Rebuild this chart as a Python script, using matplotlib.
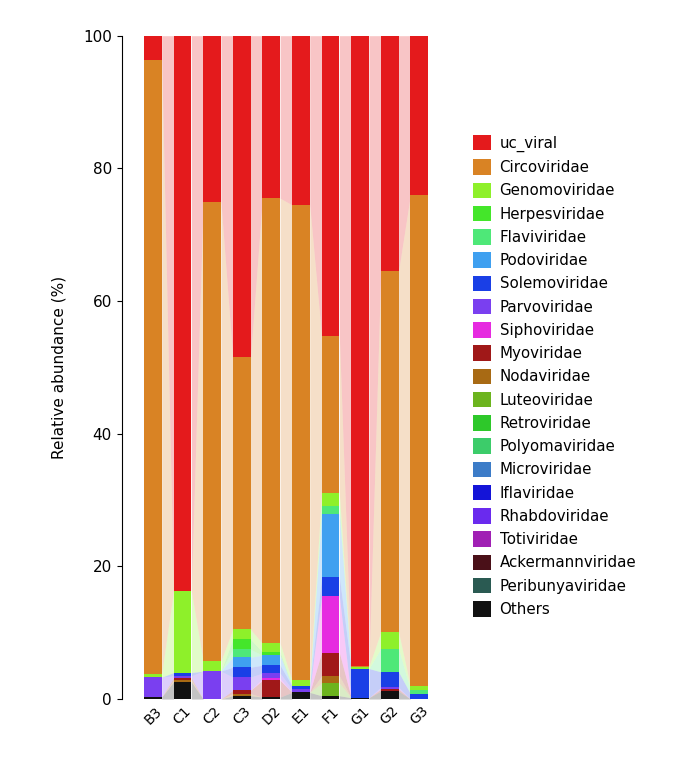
import matplotlib
matplotlib.use("Agg")
import matplotlib.pyplot as plt
import numpy as np

samples = ["B3","C1","C2","C3","D2","E1","F1","G1","G2","G3"]
families = ["uc_viral","Circoviridae","Genomoviridae","Herpesviridae","Flaviviridae","Podoviridae",
            "Solemoviridae","Parvoviridae","Siphoviridae","Myoviridae","Nodaviridae","Luteoviridae",
            "Retroviridae","Polyomaviridae","Microviridae","Iflaviridae","Rhabdoviridae","Totiviridae",
            "Ackermannviridae","Peribunyaviridae","Others"]
colors = ["#e41a1c","#d98324","#8ef02a","#44e62a","#4ee878","#3fa0f0","#1a3fe6","#7a3ff0","#e62ae0",
          "#a01818","#a86a14","#6cb41e","#2ec82a","#3ccc6a","#3c7cc8","#1414d8","#6a2aee","#a020b4",
          "#4a1018","#2a5a52","#111111"]

others   = [0.3, 2.6, 0.0, 0.5, 0.3, 1.0, 0.5, 0.2, 1.2, 0.0]
luteo    = [0.0, 0.0, 0.0, 0.0, 0.0, 0.0, 1.9, 0.0, 0.0, 0.0]
noda     = [0.0, 0.3, 0.0, 0.3, 0.0, 0.0, 1.1, 0.0, 0.0, 0.0]
myo      = [0.0, 0.3, 0.0, 0.5, 2.5, 0.0, 3.5, 0.0, 0.3, 0.0]
sipho    = [0.0, 0.0, 0.0, 0.0, 0.3, 0.0, 8.5, 0.0, 0.0, 0.0]
parvo    = [3.0, 0.3, 4.2, 2.0, 0.8, 0.5, 0.0, 0.0, 0.3, 0.0]
solemo   = [0.0, 0.5, 0.0, 1.5, 1.2, 0.5, 2.9, 4.4, 2.3, 0.8]
podo     = [0.0, 0.0, 0.0, 1.5, 1.5, 0.0, 9.5, 0.0, 0.0, 0.0]
flavi    = [0.0, 0.0, 0.0, 1.2, 0.0, 0.0, 1.2, 0.0, 3.5, 0.6]
herpes   = [0.0, 0.0, 0.0, 1.5, 0.5, 0.0, 0.0, 0.0, 0.0, 0.0]
genomo   = [0.5, 12.3, 1.5, 1.5, 1.3, 0.8, 1.9, 0.3, 2.5, 0.5]
circo    = [92.5, 0.0, 69.3, 41.0, 67.1, 71.7, 23.7, 0.1, 54.4, 74.1]
zeros = [0.0]*10
vals = {"Others":others,"Luteoviridae":luteo,"Nodaviridae":noda,"Myoviridae":myo,"Siphoviridae":sipho,
        "Parvoviridae":parvo,"Solemoviridae":solemo,"Podoviridae":podo,"Flaviviridae":flavi,
        "Herpesviridae":herpes,"Genomoviridae":genomo,"Circoviridae":circo}
data = np.array([vals.get(f, zeros) for f in families])
data[0] = 100 - data[1:].sum(axis=0)

fig = plt.figure(figsize=(6.8, 7.59), dpi=100)
ax = fig.add_axes([0.179, 0.079, 0.455, 0.874])
x = np.arange(len(samples))
w = 0.6
bottom = np.zeros(len(samples))
for i in range(len(families)-1, -1, -1):
    v = data[i]
    ax.bar(x, v, w, bottom=bottom, color=colors[i], label=families[i], zorder=3)
    top = bottom + v
    for j in range(len(samples)-1):
        xs = [x[j]+w/2, x[j+1]-w/2]
        ax.fill_between(xs, [bottom[j], bottom[j+1]], [top[j], top[j+1]],
                        color=colors[i], alpha=0.25, lw=0, zorder=2)
    bottom = top

ax.set_xlim(-1.05, 9.4)
ax.set_ylim(0, 100)
ax.set_yticks([0,20,40,60,80,100])
ax.tick_params(axis='y', labelsize=11)
ax.set_xticks(x)
ax.set_xticklabels(samples, rotation=45, fontsize=10)
ax.tick_params(axis='x', length=0)
for s in ["top","right","bottom"]:
    ax.spines[s].set_visible(False)
ax.set_ylabel("Relative abundance (%)", fontsize=11, labelpad=12)

h, l = ax.get_legend_handles_labels()
order = {lab: k for k, lab in enumerate(families)}
pairs = sorted(zip(h, l), key=lambda p: order[p[1]])
fig.legend([p[0] for p in pairs], [p[1] for p in pairs], loc="upper left",
           bbox_to_anchor=(0.675, 0.84), frameon=False, fontsize=10.8,
           handlelength=1.2, handleheight=1.2, labelspacing=0.5, handletextpad=0.6)
fig.savefig("out.png", dpi=100)
